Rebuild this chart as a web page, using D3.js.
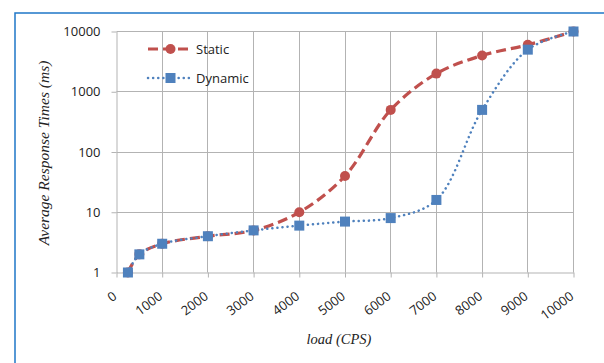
<!DOCTYPE html>
<html>
<head>
<meta charset="utf-8">
<style>
  body { margin: 0; background: #fff; }
  svg { display: block; }
  .tick text { font-family: "Open Sans", sans-serif; font-size: 13px; fill: #222; }
</style>
</head>
<body>
<svg width="604" height="363"></svg>
<script src="https://cdn.jsdelivr.net/npm/d3@7"></script>
<script>

// load (CPS) at which each sample was taken
var loads = [250, 500, 1000, 2000, 3000, 4000, 5000, 6000, 7000, 8000, 9000, 10000];
var staticTimes  = [1, 2, 3, 4, 5, 10, 40, 500, 2000, 4000, 6000, 10000];
var dynamicTimes = [1, 2, 3, 4, 5, 6, 7, 8, 16, 500, 5000, 10000];
var xTicks = [0, 1000, 2000, 3000, 4000, 5000, 6000, 7000, 8000, 9000, 10000];
var yTicks = [1, 10, 100, 1000, 10000];
var seriesNames = ["Static", "Dynamic"];

var svg = d3.select("svg"),
    margin = {top: 31.5, right: 30.5, bottom: 90.5, left: 116.5},
    width = +svg.attr("width") - margin.left - margin.right,
    height = +svg.attr("height") - margin.top - margin.bottom;

// blue frame of the chart area (runs off the right and bottom edges)
svg.append("rect")
    .attr("x", 15).attr("y", 13)
    .attr("width", 620).attr("height", 380)
    .attr("fill", "none")
    .attr("stroke", "#1f77c8")
    .attr("stroke-width", 1.5);

var g = svg.append("g").attr("transform", "translate(" + margin.left + "," + margin.top + ")");

var x = d3.scaleLinear().domain([0, 10000]).range([0, width]);
var y = d3.scaleLog().domain([1, 10000]).range([height, 0]);

var gridColor = "#b3b3b3";

// gridlines
g.append("g").selectAll("line")
  .data(xTicks.slice(1))
  .enter().append("line")
    .attr("x1", function(d) { return Math.round(x(d)); })
    .attr("x2", function(d) { return Math.round(x(d)); })
    .attr("y1", 0).attr("y2", height)
    .attr("stroke", gridColor);

g.append("g").selectAll("line")
  .data(yTicks.slice(1))
  .enter().append("line")
    .attr("x1", 0).attr("x2", width)
    .attr("y1", function(d) { return Math.round(y(d)); })
    .attr("y2", function(d) { return Math.round(y(d)); })
    .attr("stroke", gridColor);

// axes
var xAxis = g.append("g")
    .attr("transform", "translate(0," + height + ")")
    .call(d3.axisBottom(x).tickValues(xTicks).tickFormat(d3.format("d")).tickSize(5).tickSizeOuter(0));
xAxis.selectAll("line, path").attr("stroke", gridColor);
xAxis.selectAll("text")
    .attr("text-anchor", "end")
    .attr("dy", "0.35em")
    .attr("y", 0)
    .attr("font-size", 13.5)
    .attr("transform", "translate(-2,22) rotate(-37)");

var yAxis = g.append("g")
    .call(d3.axisLeft(y).tickValues(yTicks).tickFormat(d3.format("d")).tickSize(5).tickSizeOuter(0));
yAxis.selectAll("line, path").attr("stroke", gridColor);
yAxis.selectAll("text").attr("x", -16);

// axis titles
svg.append("text")
    .attr("transform", "translate(49," + (margin.top + height / 2 + 1) + ") rotate(-90)")
    .attr("text-anchor", "middle")
    .attr("font-family", "'Liberation Serif', serif")
    .attr("font-style", "italic")
    .attr("font-size", 15.5)
    .attr("fill", "#222")
    .text("Average Response Times (ms)");

svg.append("text")
    .attr("x", margin.left + width / 2 - 6)
    .attr("y", 344)
    .attr("text-anchor", "middle")
    .attr("font-family", "'Liberation Serif', serif")
    .attr("font-style", "italic")
    .attr("font-size", 14.5)
    .attr("fill", "#222")
    .text("load (CPS)");

var color = d3.scaleOrdinal().domain(seriesNames).range(["#c0504d", "#4f81bd"]);

var line = d3.line()
    .x(function(d) { return x(d[0]); })
    .y(function(d) { return y(d[1]); })
    .curve(d3.curveCatmullRom.alpha(0.5));

var staticData = loads.map(function(l, i) { return [l, staticTimes[i]]; });
var dynamicData = loads.map(function(l, i) { return [l, dynamicTimes[i]]; });

// static series: dashed line with round markers
g.append("path")
    .datum(staticData)
    .attr("d", line)
    .attr("fill", "none")
    .attr("stroke", color("Static"))
    .attr("stroke-width", 3.2)
    .attr("stroke-dasharray", "10,5");

g.append("g").selectAll("circle")
  .data(staticData)
  .enter().append("circle")
    .attr("cx", function(d) { return x(d[0]); })
    .attr("cy", function(d) { return y(d[1]); })
    .attr("r", 5)
    .attr("fill", color("Static"));

// dynamic series: dotted line with square markers
g.append("path")
    .datum(dynamicData)
    .attr("d", line)
    .attr("fill", "none")
    .attr("stroke", color("Dynamic"))
    .attr("stroke-width", 2.5)
    .attr("stroke-linecap", "round")
    .attr("stroke-dasharray", "0.1,5");

g.append("g").selectAll("rect")
  .data(dynamicData)
  .enter().append("rect")
    .attr("x", function(d) { return x(d[0]) - 5; })
    .attr("y", function(d) { return y(d[1]) - 5; })
    .attr("width", 10)
    .attr("height", 10)
    .attr("fill", color("Dynamic"));

// legend
var legend = svg.append("g")
    .attr("font-family", "'Open Sans', sans-serif")
    .attr("font-size", 13)
  .selectAll("g")
  .data(seriesNames)
  .enter().append("g")
    .attr("transform", function(d, i) { return "translate(148," + (49 + i * 29) + ")"; });

legend.append("line")
    .attr("x1", 0).attr("x2", 45)
    .attr("stroke", color)
    .attr("stroke-width", function(d) { return d === "Static" ? 3.2 : 2.5; })
    .attr("stroke-linecap", function(d) { return d === "Static" ? "butt" : "round"; })
    .attr("stroke-dasharray", function(d) { return d === "Static" ? "10,5" : "0.1,5"; });

legend.filter(function(d) { return d === "Static"; }).append("circle")
    .attr("cx", 22.5).attr("r", 5).attr("fill", color);

legend.filter(function(d) { return d === "Dynamic"; }).append("rect")
    .attr("x", 17.5).attr("y", -5).attr("width", 10).attr("height", 10).attr("fill", color);

legend.append("text")
    .attr("x", 48)
    .attr("dy", "0.35em")
    .attr("fill", "#222")
    .text(function(d) { return d; });

</script>
</body>
</html>
